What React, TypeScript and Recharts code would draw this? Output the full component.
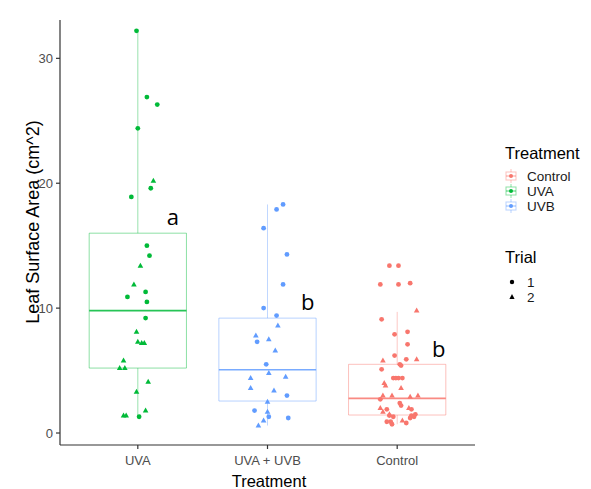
import {
  ComposedChart,
  Scatter,
  XAxis,
  YAxis,
  ReferenceArea,
  ReferenceLine,
  ReferenceDot,
} from 'recharts';

const treatments = ['UVA', 'UVA + UVB', 'Control'];
const colors = ['#00BA38', '#619CFF', '#F8766D'];

// box stats per treatment: [lower whisker, q1, median, q3, upper whisker]
const uvaBox = [1.3, 5.2, 9.8, 16.0, 32.2];
const uvbBox = [0.6, 2.56, 5.07, 9.2, 18.3];
const controlBox = [0.7, 1.44, 2.77, 5.5, 9.7];
const boxes = [uvaBox, uvbBox, controlBox];

// points as [jitter, leaf area]
const uvaTrial1 = [
  [-0.01, 32.2], [0.07, 26.9], [0.15, 26.3], [0.0, 24.4], [0.1, 19.6], [-0.05, 18.9],
  [0.07, 15.0], [0.09, 14.2], [0.06, 11.3], [-0.08, 10.9], [0.07, 10.5], [0.06, 9.2], [0.01, 1.3],
];
const uvaTrial2 = [
  [0.12, 20.2], [0.02, 13.4], [-0.03, 11.9], [-0.01, 8.1], [0.0, 7.3], [0.03, 7.2], [0.05, 7.2],
  [-0.11, 5.8], [-0.14, 5.2], [-0.1, 5.2], [0.08, 4.1], [-0.01, 3.3], [0.06, 1.8], [-0.11, 1.4], [-0.09, 1.4],
];
const uvbTrial1 = [
  [0.12, 18.3], [0.07, 17.9], [-0.03, 16.4], [0.15, 14.3], [0.12, 11.9], [-0.03, 10.0], [0.07, 9.4],
  [-0.08, 7.3], [-0.01, 5.5], [0.15, 3.0], [-0.1, 1.8], [0.01, 1.3], [0.16, 1.2],
];
const uvbTrial2 = [
  [0.08, 8.6], [-0.09, 7.8], [0.01, 7.5], [0.06, 6.6], [0.01, 4.8], [-0.13, 4.4], [0.14, 4.5],
  [-0.13, 3.6], [0.05, 3.4], [0.0, 2.5], [0.0, 1.7], [-0.03, 1.0], [-0.07, 0.6],
];
const controlTrial1 = [
  [-0.06, 13.4], [0.01, 13.4], [-0.13, 11.9], [0.01, 11.9], [0.1, 12.0], [-0.12, 9.1], [-0.02, 7.9],
  [0.08, 8.1], [0.08, 7.1], [-0.02, 6.2], [0.07, 5.9], [0.02, 5.5], [0.03, 5.4], [-0.12, 5.1],
  [-0.03, 4.4], [-0.01, 4.4], [0.01, 4.4], [0.04, 4.4], [-0.13, 2.7], [0.02, 2.4], [0.03, 2.2],
  [-0.08, 1.9], [0.11, 1.9], [-0.06, 1.4], [-0.03, 1.3], [0.14, 1.5], [0.11, 1.4], [0.1, 1.2],
  [0.13, 1.3], [-0.08, 0.9], [-0.05, 0.9], [0.07, 0.8], [-0.04, 0.7],
];
const controlTrial2 = [
  [0.15, 9.8], [0.15, 5.9], [-0.11, 5.8], [-0.1, 4.0], [-0.09, 3.8], [0.03, 3.6], [-0.11, 3.0],
  [-0.04, 3.0], [0.1, 2.9], [0.16, 3.0], [-0.13, 2.0], [0.09, 2.0], [-0.11, 1.7], [-0.06, 1.5], [0.04, 1.0],
];

const trial1 = [uvaTrial1, uvbTrial1, controlTrial1];
const trial2 = [uvaTrial2, uvbTrial2, controlTrial2];

// significance letters: [letter, treatment index, offset, value]
const letters: [string, number, number, number][] = [
  ['a', 0, 0.27, 17.4],
  ['b', 1, 0.31, 10.6],
  ['b', 2, 0.32, 6.8],
];

const legendLabels = ['Control', 'UVA', 'UVB'];
const legendColors = ['#F8766D', '#00BA38', '#619CFF'];
const trialLabels = ['1', '2'];

const toPoints = (pts: number[][], cat: number) =>
  pts.map(([j, v]) => ({ x: cat + 1 + j, y: v }));

const Dot = (color: string) => (p: any) => <circle cx={p.cx} cy={p.cy} r={2.4} fill={color} />;
const Tri = (color: string) => (p: any) => (
  <path
    d={`M${p.cx},${p.cy - 3} L${p.cx + 2.8},${p.cy + 2} L${p.cx - 2.8},${p.cy + 2} Z`}
    fill={color}
  />
);

const font = '"Liberation Sans", Arial, sans-serif';

export default function App() {
  return (
    <div style={{ position: 'relative', width: 583, height: 481, fontFamily: font }}>
      <ComposedChart width={583} height={481} margin={{ top: 12, right: 116, bottom: 0, left: 0 }}>
        <XAxis
          type="number"
          dataKey="x"
          domain={[0.4, 3.6]}
          ticks={[1, 2, 3]}
          tickFormatter={(v: number) => treatments[v - 1]}
          allowDataOverflow
          height={44}
          tickSize={4}
          tickMargin={7}
          stroke="#333333"
          strokeWidth={1.2}
          tick={{ fill: '#4D4D4D', fontSize: 13, fontFamily: font }}
        />
        <YAxis
          type="number"
          dataKey="y"
          domain={[-0.96, 33.07]}
          ticks={[0, 10, 20, 30]}
          allowDataOverflow
          width={52}
          tickSize={4}
          tickMargin={3}
          stroke="#333333"
          strokeWidth={1.2}
          tick={{ fill: '#4D4D4D', fontSize: 13, fontFamily: font }}
        />
        {boxes.map((b, i) => (
          <ReferenceLine
            key={'wl' + i}
            segment={[{ x: i + 1, y: b[0] }, { x: i + 1, y: b[1] }]}
            stroke={colors[i]}
            strokeOpacity={0.4}
          />
        ))}
        {boxes.map((b, i) => (
          <ReferenceLine
            key={'wh' + i}
            segment={[{ x: i + 1, y: b[3] }, { x: i + 1, y: b[4] }]}
            stroke={colors[i]}
            strokeOpacity={0.4}
          />
        ))}
        {boxes.map((b, i) => (
          <ReferenceArea
            key={'bx' + i}
            x1={i + 1 - 0.375}
            x2={i + 1 + 0.375}
            y1={b[1]}
            y2={b[3]}
            fill="none"
            fillOpacity={0}
            stroke={colors[i]}
            strokeOpacity={0.45}
          />
        ))}
        {boxes.map((b, i) => (
          <ReferenceLine
            key={'md' + i}
            segment={[{ x: i + 1 - 0.375, y: b[2] }, { x: i + 1 + 0.375, y: b[2] }]}
            stroke={colors[i]}
            strokeOpacity={0.85}
            strokeWidth={1.6}
          />
        ))}
        {trial1.map((pts, i) => (
          <Scatter
            key={'t1' + i}
            data={toPoints(pts, i)}
            shape={Dot(colors[i])}
            isAnimationActive={false}
          />
        ))}
        {trial2.map((pts, i) => (
          <Scatter
            key={'t2' + i}
            data={toPoints(pts, i)}
            shape={Tri(colors[i])}
            isAnimationActive={false}
          />
        ))}
        {letters.map(([l, c, o, v], i) => (
          <ReferenceDot
            key={'lt' + i}
            x={c + 1 + o}
            y={v}
            r={0}
            shape={(p: any) => (
              <text
                x={p.cx}
                y={p.cy}
                textAnchor="middle"
                dominantBaseline="central"
                fontSize={22}
                fontFamily='"Open Sans", sans-serif'
                fill="#000"
              >
                {l}
              </text>
            )}
          />
        ))}
      </ComposedChart>

      <div
        style={{
          position: 'absolute',
          left: 25,
          top: 214,
          transform: 'translate(-50%, -50%) rotate(-90deg)',
          whiteSpace: 'nowrap',
          fontSize: 18,
          color: '#000',
        }}
      >
        Leaf Surface Area (cm^2)
      </div>
      <div
        style={{
          position: 'absolute',
          left: 261,
          top: 473,
          transform: 'translate(-50%, -50%)',
          whiteSpace: 'nowrap',
          fontSize: 16.5,
        }}
      >
        Treatment
      </div>

      <div style={{ position: 'absolute', left: 497, top: 144.5, transform: 'translateY(-50%)', fontSize: 16.5 }}>
        Treatment
      </div>
      {legendLabels.map((l, i) => (
        <div key={l}>
          <svg
            width={14}
            height={14}
            style={{ position: 'absolute', left: 496, top: 168 + i * 15 - 7 }}
          >
            <line x1={7} y1={0} x2={7} y2={14} stroke={legendColors[i]} strokeOpacity={0.45} />
            <rect x={2} y={3} width={10} height={8} fill="#fff" stroke={legendColors[i]} strokeOpacity={0.45} />
            <line x1={2} y1={7} x2={12} y2={7} stroke={legendColors[i]} strokeOpacity={0.7} />
            <circle cx={7} cy={7} r={2} fill={legendColors[i]} />
          </svg>
          <div
            style={{
              position: 'absolute',
              left: 519,
              top: 168 + i * 15,
              transform: 'translateY(-50%)',
              fontSize: 13.5,
              color: '#1a1a1a',
            }}
          >
            {l}
          </div>
        </div>
      ))}

      <div style={{ position: 'absolute', left: 497, top: 249, transform: 'translateY(-50%)', fontSize: 16.5 }}>
        Trial
      </div>
      {trialLabels.map((l, i) => (
        <div key={l}>
          <svg width={10} height={10} style={{ position: 'absolute', left: 499, top: 274 + i * 15 - 5 }}>
            {i === 0 ? (
              <circle cx={5} cy={5} r={2.2} fill="#000" />
            ) : (
              <path d="M5,2 L7.6,7 L2.4,7 Z" fill="#000" />
            )}
          </svg>
          <div
            style={{
              position: 'absolute',
              left: 519,
              top: 274 + i * 15,
              transform: 'translateY(-50%)',
              fontSize: 13.5,
              color: '#1a1a1a',
            }}
          >
            {l}
          </div>
        </div>
      ))}
    </div>
  );
}
